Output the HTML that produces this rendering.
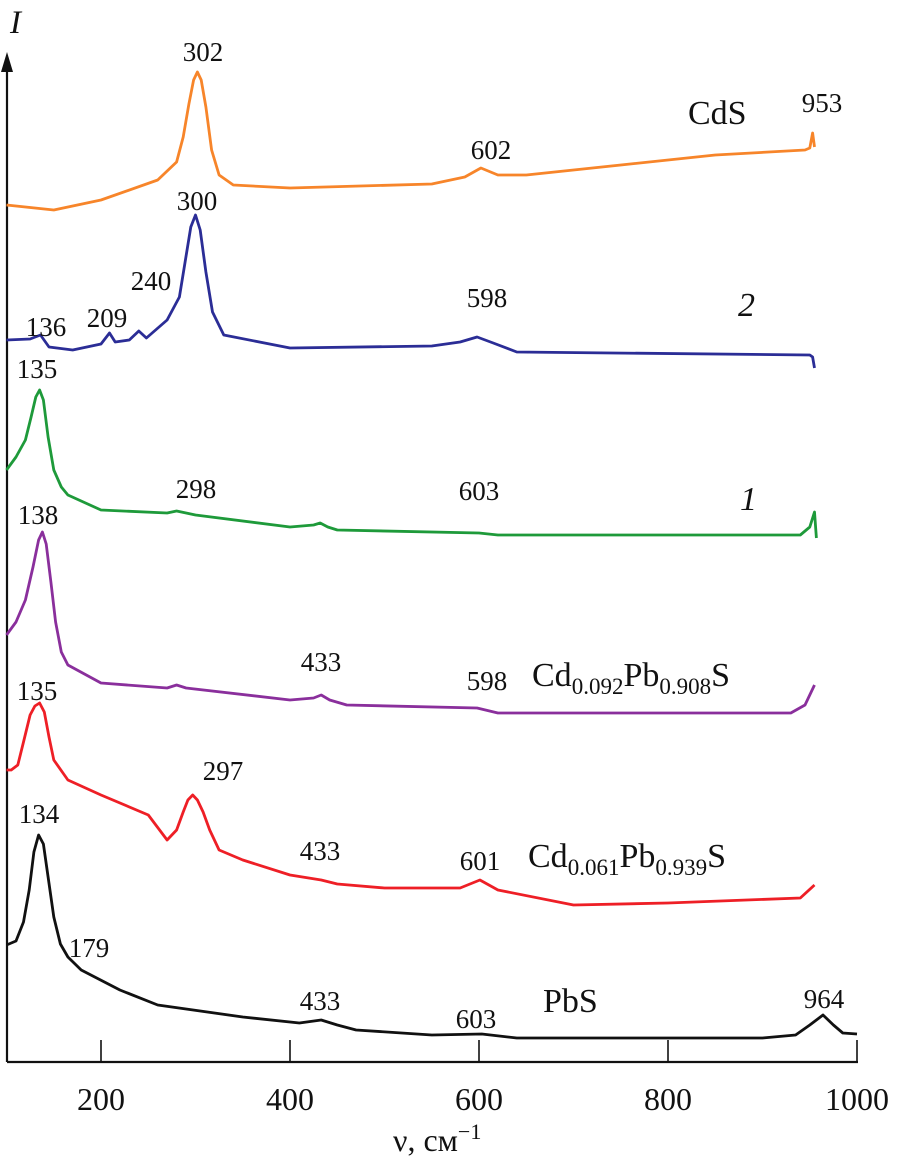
<!DOCTYPE html>
<html><head><meta charset="utf-8"><style>
body{margin:0;background:#fff}
svg{display:block}
text{font-family:"Liberation Serif",serif;fill:#111}
</style></head><body>
<svg id="chart" width="898" height="1173" viewBox="0 0 898 1173">
<g id="axes"></g>
<g id="series"></g>
<g id="labels"></g>
</svg>
<script>
// Wavenumbers (cm^-1) and intensity (arbitrary, height above the x axis)
const xTicks = [200, 400, 600, 800, 1000];
const cdsX = [100,150,200,260,280,287,293,298,302,306,311,317,325,340,400,550,585,602,620,650,750,850,945,950,953,955];
const cdsY = [857,852,862,882,900,925,958,982,990,982,955,912,887,877,874,878,885,894,887,887,897,907,912,914,929,915];
const s2X = [100,125,136,145,170,200,209,215,230,240,248,270,283,289,295,300,305,311,318,330,400,550,580,598,615,640,950,953,955];
const s2Y = [722,723,727,715,712,718,729,720,722,731,724,742,765,800,835,847,832,790,750,727,714,716,720,725,719,710,707,705,694];
const s1X = [100,110,120,126,131,135,139,144,150,158,165,200,270,280,290,300,400,425,432,440,450,600,620,940,950,955,957];
const s1Y = [592,605,622,645,665,672,662,625,592,575,567,552,549,551,549,547,535,537,539,535,532,529,527,527,535,550,524];
const s3X = [100,110,120,128,134,138,142,147,152,158,165,200,270,280,290,400,425,433,442,460,598,620,930,945,955];
const s3Y = [427,440,462,495,522,530,518,480,440,410,397,379,374,377,374,362,364,367,362,357,354,349,349,357,377];
const s4X = [100,105,112,118,125,130,135,140,145,150,165,200,250,270,280,287,292,297,302,308,315,325,350,400,433,450,500,580,601,620,700,800,940,955];
const s4Y = [292,292,297,320,347,356,359,350,325,302,282,267,247,222,232,250,262,267,262,250,232,212,202,187,182,178,174,174,182,172,157,159,164,177];
const pbsX = [100,110,118,124,129,134,139,144,150,157,165,179,220,260,350,410,433,450,470,550,603,640,900,935,950,964,975,985,1000];
const pbsY = [117,121,140,172,210,227,218,185,145,118,105,92,72,57,45,39,42,37,32,27,28,24,24,27,37,47,37,29,28];

const X0 = 101, PX = 0.945;          // 200 -> x=101, 1000 -> x=857
function xs(v){ return X0 + (v - 200) * PX; }
const AXIS_Y = 1062;
function ys(h){ return AXIS_Y - h; }

const NS = "http://www.w3.org/2000/svg";
const axes = document.getElementById('axes');
const seriesG = document.getElementById('series');
const labels = document.getElementById('labels');

function mk(tag, attrs, parent){
  const el = document.createElementNS(NS, tag);
  for (const k in attrs) el.setAttribute(k, attrs[k]);
  parent.appendChild(el);
  return el;
}

let el = mk('line',{x1:7,y1:AXIS_Y,x2:858,y2:AXIS_Y,stroke:'#111','stroke-width':2.2},axes);


el = mk('line',{x1:7,y1:AXIS_Y,x2:7,y2:68,stroke:'#111','stroke-width':2.2},axes);


el = mk('path',{d:'M7,52 L1,72 L13,72 Z',fill:'#111'},axes);


xTicks.forEach(t=>{
  const tk = mk('line',{x1:xs(t),y1:AXIS_Y,x2:xs(t),y2:AXIS_Y-22,stroke:'#111','stroke-width':1.6},axes);
  
  
  const tl = mk('text',{x:xs(t),y:1110,'text-anchor':'middle','font-size':32},axes);
  tl.textContent = t;
  
  
});
el = mk('text',{x:393,y:1151,'font-size':32},axes);
el.innerHTML = 'ν, см<tspan dy="-12" font-size="22">−1</tspan>';


el = mk('text',{x:10,y:33,'font-size':33,'font-style':'italic'},axes);
el.textContent = 'I';



const allSeries = [
  ['cds-spectrum', cdsX, cdsY, '#f7852a'],
  ['spectrum-2', s2X, s2Y, '#2b2d96'],
  ['spectrum-1', s1X, s1Y, '#1e9a3a'],
  ['cd0092-spectrum', s3X, s3Y, '#8a2f9c'],
  ['cd0061-spectrum', s4X, s4Y, '#ee1f26'],
  ['pbs-spectrum', pbsX, pbsY, '#111111']
];
allSeries.forEach(s=>{
  const pts = s[1].map((v,i)=>xs(v).toFixed(1)+','+ys(s[2][i]).toFixed(1)).join(' ');
  const pl = mk('polyline',{points:pts,fill:'none',stroke:s[3],'stroke-width':2.8,'stroke-linejoin':'round'},seriesG);
  
  
});

const annText = ['302','953','602','300','240','209','136','598','135','298','603','138','433','598','135','297','433','601','134','179','433','603','964'];
const annX =    [203, 822, 491, 197, 151, 107, 46, 487, 37, 196, 479, 38, 321, 487, 37, 223, 320, 480, 39, 89, 320, 476, 824];
const annY =    [61, 112, 159, 210, 290, 327, 336, 307, 378, 498, 500, 524, 671, 690, 700, 780, 860, 870, 823, 957, 1010, 1028, 1008];
annText.forEach((t,i)=>{
  const tx = mk('text',{x:annX[i],y:annY[i],'text-anchor':'middle','font-size':27},labels);
  tx.textContent = t;
  
  
});
function lbl(name, x, y, html, italic){
  const t = mk('text',{x:x,y:y,'font-size':34},labels);
  if (italic) t.setAttribute('font-style','italic');
  t.innerHTML = html;
  
  
}
lbl('cds-label',688,124,'CdS');
lbl('curve-2-label',738,316,'2',true);
lbl('curve-1-label',740,510,'1',true);
lbl('cd0092-label',532,686,'Cd<tspan font-size="23" dy="8">0.092</tspan><tspan dy="-8">Pb</tspan><tspan font-size="23" dy="8">0.908</tspan><tspan dy="-8">S</tspan>');
lbl('cd0061-label',528,867,'Cd<tspan font-size="23" dy="8">0.061</tspan><tspan dy="-8">Pb</tspan><tspan font-size="23" dy="8">0.939</tspan><tspan dy="-8">S</tspan>');
lbl('pbs-label',543,1012,'PbS');
</script>
</body></html>
